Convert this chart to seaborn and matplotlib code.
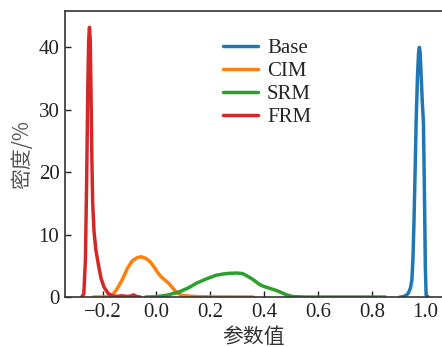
import numpy as np
import pandas as pd
import matplotlib
matplotlib.use("Agg")
import matplotlib.pyplot as plt
import seaborn as sns

# curves (parameter value -> density %)
base_x = [0.905, 0.917, 0.928, 0.936, 0.944, 0.949, 0.953, 0.957, 0.961, 0.965, 0.970, 0.974, 0.977,
          0.980, 0.984, 0.988, 0.992, 0.995, 0.997, 0.999, 1.002, 1.010]
base_y = [0.0, 0.05, 0.3, 0.6, 1.5, 2.7, 6.0, 12.3, 20.0, 28.3, 35.5, 39.2, 40.0,
          39.0, 35.0, 31.0, 28.0, 19.0, 12.3, 5.0, 0.3, 0.0]

cim_x = [-0.235, -0.20, -0.175, -0.16, -0.145, -0.127, -0.108, -0.09, -0.072, -0.057, -0.04, -0.025,
         -0.01, 0.005, 0.017, 0.032, 0.048, 0.063, 0.078, 0.095, 0.12, 0.16, 0.22, 0.30, 0.36]
cim_y = [0.0, 0.0, 0.1, 0.5, 1.4, 2.8, 4.6, 5.8, 6.3, 6.45, 6.2, 5.7,
         4.9, 3.9, 3.25, 2.7, 2.1, 1.3, 0.6, 0.3, 0.15, 0.05, 0.02, 0.01, 0.0]

srm_x = [-0.04, 0.0, 0.04, 0.086, 0.12, 0.148, 0.185, 0.222, 0.25, 0.272, 0.297, 0.32,
         0.34, 0.359, 0.38, 0.396, 0.42, 0.446, 0.465, 0.483, 0.507, 0.55, 0.65, 0.75, 0.85]
srm_y = [0.0, 0.05, 0.3, 0.85, 1.5, 2.2, 2.9, 3.5, 3.7, 3.8, 3.85, 3.75,
         3.3, 2.8, 2.1, 1.75, 1.4, 1.05, 0.7, 0.35, 0.08, 0.0, 0.0, 0.0, 0.0]

frm_x = [-0.278, -0.270, -0.264, -0.259, -0.255, -0.252, -0.249, -0.246, -0.243, -0.240, -0.237,
         -0.232, -0.225, -0.215, -0.206, -0.195, -0.18, -0.165, -0.15, -0.13, -0.11, -0.095,
         -0.085, -0.075, -0.06]
frm_y = [0.0, 0.5, 6.0, 20.0, 34.0, 41.0, 43.2, 41.0, 32.0, 22.0, 15.0,
         10.5, 7.5, 5.0, 3.0, 1.6, 0.6, 0.2, 0.1, 0.2, 0.1, 0.15, 0.35, 0.1, 0.0]

labels = ["Base", "CIM", "SRM", "FRM"]
series = [(base_x, base_y), (cim_x, cim_y), (srm_x, srm_y), (frm_x, frm_y)]
colors = sns.color_palette("tab10", 4)

sns.set_style("ticks")
plt.rcParams["font.family"] = ["Liberation Serif", "Noto Sans CJK SC"]
plt.rcParams["axes.unicode_minus"] = True

fig = plt.figure(figsize=(4.42, 3.47), dpi=100)
ax = fig.add_axes([0.147, 0.144, 0.853, 0.824])

for lab, (xs, ys), c in zip(labels, series, colors):
    sns.lineplot(x=xs, y=ys, ax=ax, color=c, linewidth=2.5, label=lab, sort=False)

ax.set_xlim(-0.34, 1.061)
ax.set_ylim(0, 45.8)
ax.set_xticks([-0.2, 0.0, 0.2, 0.4, 0.6, 0.8, 1.0])
ax.set_yticks([0, 10, 20, 30, 40])
ax.tick_params(direction="in", labelsize=15, length=4, width=1, colors="#222222", pad=4)
for s in ["left", "bottom", "top"]:
    ax.spines[s].set_color("#333333")
    ax.spines[s].set_linewidth(1.2)
ax.spines["right"].set_visible(False)

ax.set_xlabel("参数值", fontsize=15, family=["Noto Sans CJK SC"], labelpad=3, color="#333333")
ax.set_ylabel("密度/%", fontsize=15, family=["Noto Sans CJK SC"], labelpad=4, color="#555555")

ax.legend(loc="upper left", bbox_to_anchor=(0.37, 0.97), frameon=False, fontsize=15,
          handlelength=1.65, labelspacing=0.17, handletextpad=0.45)

fig.savefig("out.png", dpi=100)
